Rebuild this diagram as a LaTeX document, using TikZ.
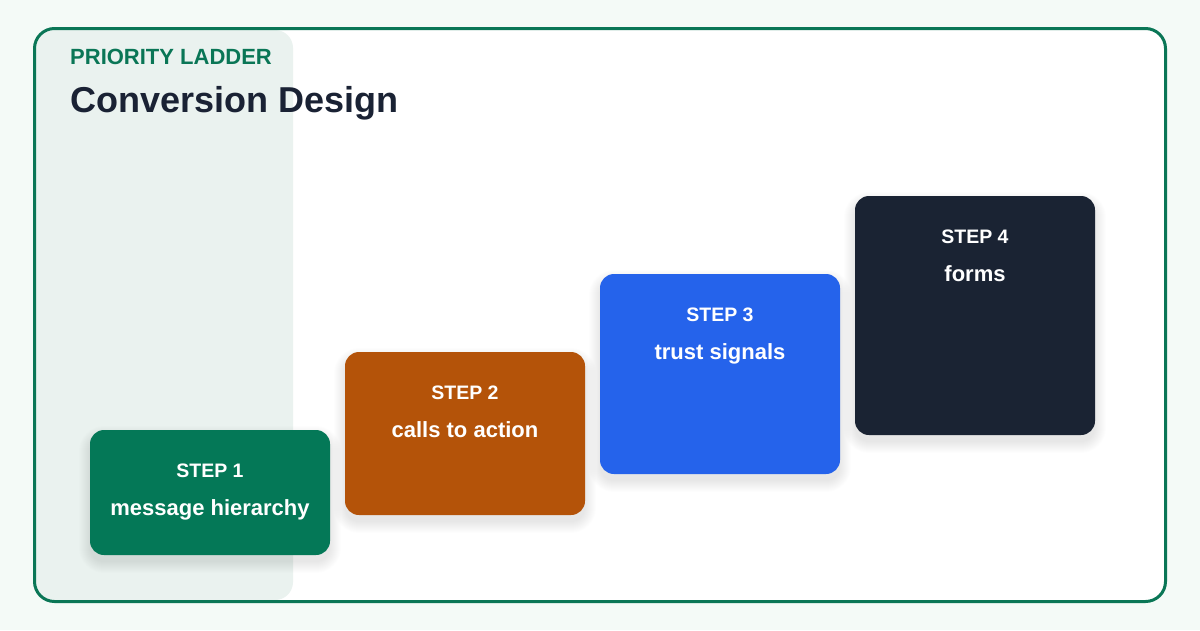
\documentclass[tikz,border=0pt]{standalone}
\usepackage{fontspec}
\setmainfont{Liberation Sans}
\usetikzlibrary{calc}
\definecolor{pagebg}{HTML}{F4FAF7}
\definecolor{framec}{HTML}{0A7656}
\definecolor{panelc}{HTML}{EAF2EF}
\definecolor{titlec}{HTML}{1A2234}
\definecolor{cone}{HTML}{047857}
\definecolor{ctwo}{HTML}{B45309}
\definecolor{cthree}{HTML}{2563EB}
\definecolor{cfour}{HTML}{1A2333}
\tikzset{
  stepbox/.style={rounded corners=14pt, minimum width=240pt, inner sep=0pt, draw=none},
  steplabel/.style={anchor=base, text=white, font=\bfseries\fontsize{19.5}{23}\selectfont},
  stepname/.style={anchor=base, text=white, font=\bfseries\fontsize{22}{26}\selectfont},
  shadowlayer/.style={fill=black, opacity=0.009},
}
\begin{document}
\begin{tikzpicture}[x=1pt,y=-1pt]
\useasboundingbox (0,0) rectangle (1200,630);
\fill[pagebg] (0,0) rectangle (1200,630);
\fill[white, rounded corners=20pt] (34.5,28.5) rectangle (1165.5,601.5);
\fill[panelc, rounded corners=18pt] (36,30) rectangle (293,600);
\draw[framec, line width=3pt, rounded corners=20pt] (34.5,28.5) rectangle (1165.5,601.5);
\node[anchor=base west, text=framec, font=\bfseries\fontsize{22}{26}\selectfont, inner sep=0pt] (kicker) at (70,64) {PRIORITY LADDER};
\node[anchor=base west, text=titlec, font=\bfseries\fontsize{36}{42}\selectfont, inner sep=0pt] (title) at (70,112) {Conversion Design};
% soft shadows
\foreach \xa/\ya/\yb in {90/430/555, 345/352/515, 600/274/474, 855/196/435} {
  \foreach \r in {0,1,...,11} {
    \fill[shadowlayer, rounded corners={14+\r}] (\xa-\r, \ya+7-\r) rectangle (\xa+240+\r, \yb+7+\r);
  }
}
% boxes
\node[stepbox, fill=cone, minimum height=125pt] (s1) at (210,492.5) {};
\node[stepbox, fill=ctwo, minimum height=163pt] (s2) at (465,433.5) {};
\node[stepbox, fill=cthree, minimum height=200pt] (s3) at (720,374) {};
\node[stepbox, fill=cfour, minimum height=239pt] (s4) at (975,315.5) {};
% labels
\node[steplabel] (l1) at ($(s1.north)+(0,48)$) {STEP 1};
\node[stepname] (n1) at ($(s1.north)+(0,86)$) {message hierarchy};
\node[steplabel] (l2) at ($(s2.north)+(0,48)$) {STEP 2};
\node[stepname] (n2) at ($(s2.north)+(0,86)$) {calls to action};
\node[steplabel] (l3) at ($(s3.north)+(0,48)$) {STEP 3};
\node[stepname] (n3) at ($(s3.north)+(0,86)$) {trust signals};
\node[steplabel] (l4) at ($(s4.north)+(0,48)$) {STEP 4};
\node[stepname] (n4) at ($(s4.north)+(0,86)$) {forms};
\end{tikzpicture}
\end{document}
